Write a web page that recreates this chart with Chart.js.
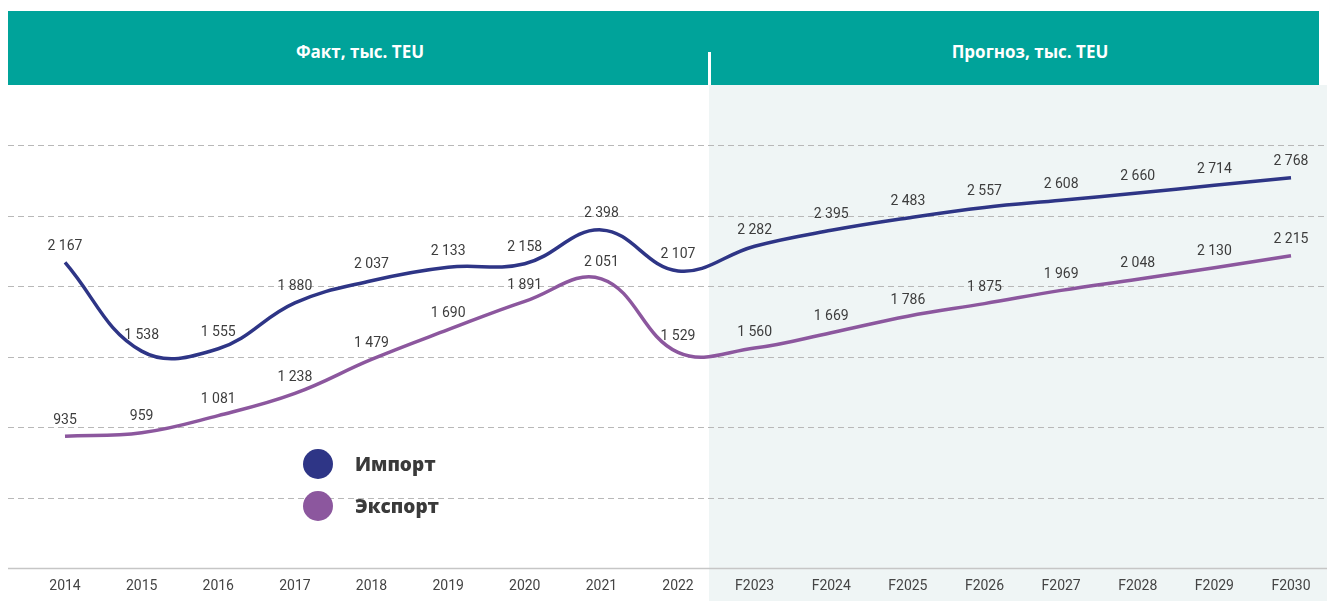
<!DOCTYPE html>
<html lang="ru">
<head>
<meta charset="utf-8">
<script src="https://cdn.jsdelivr.net/npm/chart.js@4"></script>
<style>
    html, body { margin: 0; padding: 0; background: #fff; }
    #wrap { position: relative; width: 1327px; height: 601px; overflow: hidden; }
    #chart { position: absolute; left: 0; top: 0; }
    .head { position: absolute; left: 8px; top: 11px; width: 1311px; height: 74px; background: #00a39a; }
    .head span { position: absolute; top: 29px; color: #fff;
        font: bold 17px 'Open Sans', sans-serif; line-height: 24px;
        transform: translateX(-50%); white-space: nowrap; }
    .sep { position: absolute; left: 708px; top: 52px; width: 3px; height: 33px; background: #fff; }
    .legend { position: absolute; left: 303px; font: bold 19px 'Open Sans', sans-serif; color: #3a3a3a;
        line-height: 30px; }
    .legend i { display: inline-block; width: 30px; height: 30px; border-radius: 50%;
        vertical-align: middle; margin-right: 22px; }
    .legend b { vertical-align: middle; }
</style>
</head>
<body>
<div id="wrap">
    <canvas id="chart" width="1327" height="601"></canvas>
    <div class="head">
        <span style="left: 352px;">Факт, тыс. TEU</span>
        <span style="left: 1022px;">Прогноз, тыс. TEU</span>
    </div>
    <div class="sep"></div>
    <div class="legend" style="top: 447px;"><i style="background:#2e3586"></i><b>Импорт</b></div>
    <div class="legend" style="top: 489px;"><i style="background:#8c579e"></i><b>Экспорт</b></div>
</div>
<script>
// годы и значения, тыс. TEU
const years = ['2014', '2015', '2016', '2017', '2018', '2019', '2020', '2021', '2022',
    'F2023', 'F2024', 'F2025', 'F2026', 'F2027', 'F2028', 'F2029', 'F2030'];
const importValues = [2167, 1538, 1555, 1880, 2037, 2133, 2158, 2398, 2107,
    2282, 2395, 2483, 2557, 2608, 2660, 2714, 2768];
const exportValues = [935, 959, 1081, 1238, 1479, 1690, 1891, 2051, 1529,
    1560, 1669, 1786, 1875, 1969, 2048, 2130, 2215];
const lastFactIndex = 8;

// пробел как разделитель тысяч
function formatNumber(num) {
    return num.toString().replace(/\B(?=(\d{3})+(?!\d))/g, ' ');
}

// фон прогноза (до осей, чтобы подписи лет были поверх)
const forecastPlugin = {
    id: 'forecastArea',
    beforeDraw(chart) {
        const ctx = chart.ctx;
        const x = chart.scales.x;
        const p1 = x.getPixelForValue(lastFactIndex);
        const p2 = x.getPixelForValue(lastFactIndex + 1);
        const splitX = Math.round(p1 + (p2 - p1) * 0.4);
        ctx.save();
        ctx.fillStyle = '#eff5f5';
        ctx.fillRect(splitX, 85, chart.width - splitX, chart.height - 85);
        ctx.restore();
    }
};

// пунктирная сетка на всю ширину
const gridPlugin = {
    id: 'wideGrid',
    beforeDatasetsDraw(chart) {
        const ctx = chart.ctx;
        const y = chart.scales.y;
        ctx.save();
        y.ticks.forEach(tick => {
            const py = Math.round(y.getPixelForValue(tick.value)) + 0.5;
            ctx.beginPath();
            if (tick.value === 0) {
                ctx.setLineDash([]);
                ctx.strokeStyle = '#c6c6c6';
                ctx.lineWidth = 1.5;
            } else {
                ctx.setLineDash([6, 4]);
                ctx.strokeStyle = '#b8b8b8';
                ctx.lineWidth = 1;
            }
            ctx.moveTo(8, py);
            ctx.lineTo(chart.width, py);
            ctx.stroke();
        });
        ctx.restore();
    }
};

// подписи значений над точками
const valueLabelsPlugin = {
    id: 'valueLabels',
    afterDatasetsDraw(chart) {
        const ctx = chart.ctx;
        ctx.save();
        ctx.font = '14px Roboto, sans-serif';
        ctx.fillStyle = '#3d3d3d';
        ctx.textAlign = 'center';
        ctx.textBaseline = 'middle';
        chart.data.datasets.forEach((ds, i) => {
            chart.getDatasetMeta(i).data.forEach((pt, j) => {
                ctx.fillText(formatNumber(ds.data[j]), pt.x, pt.y - 16);
            });
        });
        ctx.restore();
    }
};

new Chart(document.getElementById('chart'), {
    type: 'line',
    data: {
        labels: years,
        datasets: [{
            label: 'Импорт',
            data: importValues,
            borderColor: '#2e3586',
            borderWidth: 3.5,
            tension: 0.4,
            pointRadius: 0,
            fill: false
        }, {
            label: 'Экспорт',
            data: exportValues,
            borderColor: '#8c579e',
            borderWidth: 3.5,
            tension: 0.4,
            pointRadius: 0,
            fill: false
        }]
    },
    options: {
        responsive: false,
        animation: false,
        layout: {
            padding: { left: 65, right: 36, top: 145, bottom: 0 }
        },
        plugins: {
            legend: { display: false },
            tooltip: { enabled: false }
        },
        scales: {
            x: {
                offset: false,
                grid: { display: false },
                border: { display: false },
                afterFit: function(scale) {
                    scale.height = 33;
                },
                ticks: {
                    color: '#444',
                    padding: 2,
                    maxRotation: 0,
                    autoSkip: false,
                    font: { family: 'Roboto, sans-serif', size: 14 }
                }
            },
            y: {
                display: false,
                min: 0,
                max: 3000,
                ticks: { stepSize: 500 }
            }
        }
    },
    plugins: [forecastPlugin, gridPlugin, valueLabelsPlugin]
});
</script>
</body>
</html>
